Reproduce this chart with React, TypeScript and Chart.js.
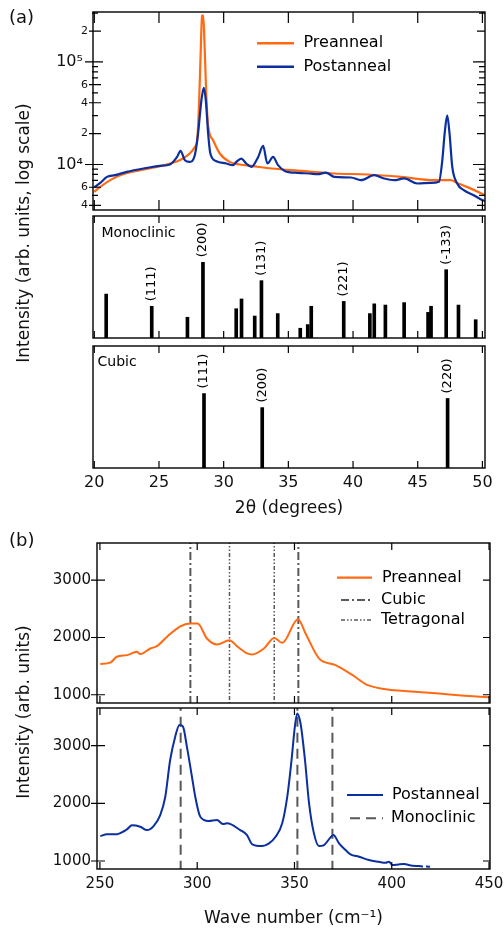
import React, { useEffect, useRef } from 'react';
import { Chart, registerables } from 'chart.js';

Chart.register(...registerables);

const FONT = '"DejaVu Sans", Verdana, sans-serif';
const ORANGE = '#ff6a13';
const BLUE = '#0c2f9f';
const REF = '#585858';

// ---------------- (a) XRD ----------------
const xrdPreX = [20.0, 20.46, 21.23, 22.0, 23.54, 25.08, 25.85, 26.6, 27.4, 27.77, 27.95, 28.1, 28.22, 28.33, 28.42, 28.52, 28.65, 28.8, 29.18, 29.7, 30.46, 31.23, 32.15, 33.7, 36.0, 38.56, 41.13, 43.7, 46.25, 47.54, 48.05, 48.8, 49.85, 50.2];
const xrdPreY = [5410, 6050, 7040, 7870, 8800, 9630, 10230, 11000, 12900, 14800, 17200, 40000, 120000, 280000, 285000, 150000, 50000, 24000, 17250, 12800, 10600, 10000, 9690, 9140, 8660, 8170, 7990, 7570, 7030, 7030, 6610, 6050, 5270, 5000];

const xrdPostX = [20.0, 20.46, 20.98, 21.6, 22.5, 23.8, 25.08, 25.85, 26.4, 26.67, 27.0, 27.38, 27.77, 28.02, 28.28, 28.46, 28.62, 28.8, 28.97, 29.44, 30.2, 30.72, 30.98, 31.36, 31.74, 32.15, 32.67, 33.05, 33.38, 33.82, 34.2, 34.72, 35.74, 36.64, 37.28, 37.9, 38.56, 39.85, 40.6, 41.64, 42.4, 43.18, 43.95, 44.97, 46.0, 46.64, 46.9, 47.08, 47.28, 47.46, 47.67, 48.05, 48.56, 49.33, 49.85, 50.2];
const xrdPostY = [5970, 6610, 7570, 7870, 8470, 9140, 9700, 10000, 11860, 13600, 11000, 10600, 12300, 20000, 42300, 56000, 42300, 20000, 12800, 10770, 10230, 9850, 10600, 11430, 10230, 9480, 11860, 15170, 10230, 11860, 9850, 8660, 8280, 8170, 8040, 8340, 7570, 7470, 7030, 7870, 7310, 7030, 7310, 6530, 6610, 6780, 11000, 20000, 30200, 20000, 9480, 6530, 5620, 5020, 4590, 4400];

const xrdXTicks = [20, 25, 30, 35, 40, 45, 50];
const xrdLogTicks = [4000, 5000, 6000, 7000, 8000, 9000, 10000, 20000, 30000, 40000, 50000, 60000, 70000, 80000, 90000, 100000, 200000, 300000];
const xrdLogTickLabels = ['4', '', '6', '', '', '', '10⁴ ', '2', '', '4', '', '6', '', '', '', '10⁵ ', '2', ''];

const monoPos = [20.92, 24.44, 27.2, 28.4, 30.97, 31.38, 32.4, 32.92, 34.18, 35.92, 36.5, 36.77, 39.28, 41.3, 41.64, 42.5, 43.95, 45.8, 46.03, 47.2, 48.15, 49.48];
const monoHeight = [36, 26, 17, 62, 24, 32, 18, 47, 20, 8, 11, 26, 30, 20, 28, 27, 29, 21, 26, 56, 27, 15];
const monoLabels = ['', '(111)', '', '(200)', '', '', '', '(131)', '', '', '', '', '(221)', '', '', '', '', '', '', '(-133)', '', ''];

const cubicPos = [28.48, 32.98, 47.31];
const cubicHeight = [61, 49.5, 57];
const cubicLabels = ['(111)', '(200)', '(220)'];

// ---------------- (b) Raman ----------------
const ramanPreX = [250.2, 255.3, 258.7, 263.9, 269.0, 270.7, 275.9, 279.3, 284.4, 291.3, 296.4, 300.2, 305.0, 310.2, 316.6, 320.4, 325.6, 328.3, 334.3, 339.6, 343.7, 351.8, 355.7, 362.6, 371.1, 379.7, 387.4, 396.8, 405.4, 417.4, 431.1, 448.3, 450.5];
const ramanPreY = [1536, 1560, 1663, 1692, 1750, 1710, 1808, 1849, 2010, 2196, 2243, 2243, 1983, 1878, 1953, 1849, 1722, 1704, 1808, 1993, 1906, 2318, 2070, 1635, 1518, 1346, 1172, 1097, 1068, 1040, 1000, 960, 958];

const ramanPostX = [250.2, 253.6, 257.9, 263.9, 266.5, 270.7, 274.2, 277.6, 281.0, 283.6, 286.1, 288.7, 290.9, 292.7, 294.7, 297.3, 299.0, 301.6, 305.8, 310.2, 313.2, 315.3, 322.1, 325.6, 328.3, 333.4, 336.9, 340.3, 343.7, 346.3, 348.5, 350.2, 351.4, 353.1, 355.4, 357.5, 360.0, 362.6, 365.2, 368.1, 370.0, 372.9, 376.3, 378.8, 383.2, 388.3, 393.4, 396.8, 398.6, 400.3, 403.7, 406.3, 410.6, 414.0, 416.0, 418.0, 420.0];
const ramanPostY = [1432, 1462, 1462, 1549, 1618, 1594, 1536, 1606, 1797, 2115, 2752, 3157, 3360, 3330, 2983, 2462, 2115, 1767, 1693, 1710, 1641, 1653, 1537, 1450, 1290, 1259, 1306, 1420, 1653, 2115, 2752, 3330, 3560, 3389, 2752, 2000, 1479, 1259, 1276, 1392, 1450, 1306, 1189, 1115, 1073, 1016, 986, 969, 986, 929, 941, 946, 917, 912, 905, 903, 900];

const ramanCubic = [296.5, 352];
const ramanTetragonal = [316.6, 339.6];
const ramanMonoclinic = [291.5, 351.5, 369.5];
const ramanXTicks = [250, 300, 350, 400, 450];
const ramanYTicks = [1000, 2000, 3000];

const CUBIC_DASH = [8, 3, 2, 3];
const TETRA_DASH = [4, 2, 1.5, 2, 1.5, 2];
const MONO_DASH = [10, 6];

// ---------------- layout helpers ----------------
type Box = { left: number; top: number; width: number; height: number };
type Rect = { l: number; t: number; r: number; b: number };
const MARGIN = 40;
const Y_AXIS_W = 80;

function boxFor(p: Rect, bottomExtra = MARGIN): Box {
  const top = Math.floor(p.t) - MARGIN;
  return { left: -MARGIN, top, width: 504 + 2 * MARGIN, height: Math.ceil(p.b + bottomExtra) - top };
}
function paddingFor(p: Rect, bx: Box, yShown: boolean, xH: number) {
  return {
    left: p.l - bx.left - (yShown ? Y_AXIS_W : 0),
    top: p.t - bx.top,
    right: bx.left + bx.width - p.r,
    bottom: bx.top + bx.height - p.b - xH,
  };
}

type YTick = { v: number; out: number; inn: number; rin: number };
function framePlugin(
  xTicks: number[],
  topLen: number,
  botLen: number,
  yTicks: YTick[],
  extra?: (chart: any, ctx: CanvasRenderingContext2D) => void,
) {
  return {
    id: 'frame',
    afterDraw(chart: any) {
      const { ctx, chartArea: a } = chart;
      const sx = chart.scales.x;
      const sy = chart.scales.y;
      ctx.save();
      ctx.strokeStyle = '#000';
      ctx.lineWidth = 1.4;
      ctx.strokeRect(a.left, a.top, a.right - a.left, a.bottom - a.top);
      ctx.lineWidth = 1.2;
      ctx.beginPath();
      xTicks.forEach((v) => {
        const x = sx.getPixelForValue(v);
        ctx.moveTo(x, a.top);
        ctx.lineTo(x, a.top + topLen);
        ctx.moveTo(x, a.bottom);
        ctx.lineTo(x, a.bottom - botLen);
      });
      yTicks.forEach((t) => {
        const y = sy.getPixelForValue(t.v);
        ctx.moveTo(a.left - t.out, y);
        ctx.lineTo(a.left + t.inn, y);
        ctx.moveTo(a.right, y);
        ctx.lineTo(a.right - t.rin, y);
      });
      ctx.stroke();
      if (extra) extra(chart, ctx);
      ctx.restore();
    },
  };
}

function legendEntry(
  ctx: CanvasRenderingContext2D,
  bx: Box,
  x1: number,
  x2: number,
  y: number,
  color: string,
  width: number,
  dash: number[],
  text: string,
  tx: number,
) {
  ctx.save();
  ctx.strokeStyle = color;
  ctx.lineWidth = width;
  ctx.setLineDash(dash);
  ctx.beginPath();
  ctx.moveTo(x1 - bx.left, y - bx.top);
  ctx.lineTo(x2 - bx.left, y - bx.top);
  ctx.stroke();
  ctx.setLineDash([]);
  ctx.fillStyle = '#000';
  ctx.font = `16px ${FONT}`;
  ctx.textBaseline = 'middle';
  ctx.textAlign = 'left';
  ctx.fillText(text, tx - bx.left, y - bx.top);
  ctx.restore();
}

function pageText(ctx: CanvasRenderingContext2D, bx: Box, text: string, x: number, y: number, size: number) {
  ctx.save();
  ctx.fillStyle = '#000';
  ctx.font = `${size}px ${FONT}`;
  ctx.textBaseline = 'middle';
  ctx.textAlign = 'left';
  ctx.fillText(text, x - bx.left, y - bx.top);
  ctx.restore();
}

function stickLabels(chart: any, ctx: CanvasRenderingContext2D, labels: string[]) {
  const meta = chart.getDatasetMeta(0);
  ctx.save();
  ctx.fillStyle = '#000';
  ctx.font = `13px ${FONT}`;
  ctx.textAlign = 'left';
  ctx.textBaseline = 'middle';
  meta.data.forEach((bar: any, i: number) => {
    const lab = labels[i];
    if (!lab) return;
    ctx.save();
    ctx.translate(bar.x, bar.y - 5);
    ctx.rotate(-Math.PI / 2);
    ctx.fillText(lab, 0, 0);
    ctx.restore();
  });
  ctx.restore();
}

const hiddenGrid = { display: false, drawTicks: false };
const hiddenBorder = { display: false };
const basePlugins = { legend: { display: false }, tooltip: { enabled: false } };

// ---------------- chart builders ----------------
const xrdRect: Rect = { l: 93, t: 12, r: 485, b: 210 };
const xrdBox = boxFor(xrdRect);
const xrdYTicks: YTick[] = xrdLogTicks.map((v, i) => {
  const lab = xrdLogTickLabels[i];
  if (lab.startsWith('10')) return { v, out: 8, inn: 10, rin: 12 };
  if (lab) return { v, out: 4, inn: 8, rin: 8 };
  return { v, out: 1, inn: 5, rin: 6 };
});

function buildXrd(c: HTMLCanvasElement) {
  return new Chart(c, {
    type: 'line',
    data: {
      datasets: [
        { label: 'Postanneal', data: xrdPostX.map((x, i) => ({ x, y: xrdPostY[i] })), borderColor: BLUE, borderWidth: 2.2, pointRadius: 0, cubicInterpolationMode: 'monotone' },
        { label: 'Preanneal', data: xrdPreX.map((x, i) => ({ x, y: xrdPreY[i] })), borderColor: ORANGE, borderWidth: 2.2, pointRadius: 0, cubicInterpolationMode: 'monotone' },
      ],
    },
    options: {
      responsive: false,
      animation: false,
      events: [],
      layout: { padding: paddingFor(xrdRect, xrdBox, true, 0) },
      plugins: basePlugins,
      scales: {
        x: { type: 'linear', min: 19.9, max: 50.2, display: false },
        y: {
          type: 'logarithmic',
          min: 3600,
          max: 307000,
          afterBuildTicks: (s: any) => {
            s.ticks = xrdLogTicks.map((v) => ({ value: v }));
          },
          afterFit: (s: any) => {
            s.width = Y_AXIS_W;
          },
          grid: hiddenGrid,
          border: hiddenBorder,
          ticks: {
            autoSkip: false,
            padding: 5,
            color: '#111',
            font: (ctx: any) => ({ family: FONT, size: (xrdLogTickLabels[ctx.index] || '').startsWith('10') ? 16 : 11 }),
            callback: (_v: any, i: number) => xrdLogTickLabels[i],
          },
        },
      },
    } as any,
    plugins: [
      framePlugin(xrdXTicks, 11, 10, xrdYTicks, (chart, ctx) => {
        legendEntry(ctx, xrdBox, 257, 294, 43.3, ORANGE, 2.4, [], 'Preanneal', 303.5);
        legendEntry(ctx, xrdBox, 257, 294, 66.7, BLUE, 2.4, [], 'Postanneal', 303.5);
      }),
    ],
  });
}

const monoRect: Rect = { l: 93, t: 216, r: 485, b: 338 };
const monoBox = boxFor(monoRect);
function buildMono(c: HTMLCanvasElement) {
  return new Chart(c, {
    type: 'bar',
    data: {
      datasets: [{ label: 'Monoclinic', data: monoPos.map((x, i) => ({ x, y: monoHeight[i] })), backgroundColor: '#000', barThickness: 3 }],
    },
    options: {
      responsive: false,
      animation: false,
      events: [],
      layout: { padding: paddingFor(monoRect, monoBox, false, 0) },
      plugins: basePlugins,
      scales: {
        x: { type: 'linear', min: 19.9, max: 50.2, offset: false, display: false },
        y: { min: 0, max: 100, display: false },
      },
    } as any,
    plugins: [
      framePlugin(xrdXTicks, 7, 7, [], (chart, ctx) => {
        stickLabels(chart, ctx, monoLabels);
        pageText(ctx, monoBox, 'Monoclinic', 101.5, 233.5, 14);
      }),
    ],
  });
}

const cubicRect: Rect = { l: 93, t: 346, r: 485, b: 468 };
const CUBIC_XH = 51;
const cubicBox = boxFor(cubicRect, CUBIC_XH + 20);
function buildCubic(c: HTMLCanvasElement) {
  return new Chart(c, {
    type: 'bar',
    data: {
      datasets: [{ label: 'Cubic', data: cubicPos.map((x, i) => ({ x, y: cubicHeight[i] })), backgroundColor: '#000', barThickness: 3 }],
    },
    options: {
      responsive: false,
      animation: false,
      events: [],
      layout: { padding: paddingFor(cubicRect, cubicBox, false, CUBIC_XH) },
      plugins: basePlugins,
      scales: {
        x: {
          type: 'linear',
          min: 19.9,
          max: 50.2,
          offset: false,
          afterBuildTicks: (s: any) => {
            s.ticks = xrdXTicks.map((v) => ({ value: v }));
          },
          afterFit: (s: any) => {
            s.height = CUBIC_XH;
          },
          grid: hiddenGrid,
          border: hiddenBorder,
          ticks: { autoSkip: false, maxRotation: 0, padding: 5, color: '#111', font: { family: FONT, size: 16 }, callback: (_v: any, i: number) => String(xrdXTicks[i]) },
          title: { display: true, text: '2θ (degrees)', color: '#111', font: { family: FONT, size: 17 }, padding: 0 },
        },
        y: { min: 0, max: 100, display: false },
      },
    } as any,
    plugins: [
      framePlugin(xrdXTicks, 7, 7, [], (chart, ctx) => {
        stickLabels(chart, ctx, cubicLabels);
        pageText(ctx, cubicBox, 'Cubic', 97.5, 362.5, 14);
      }),
    ],
  });
}

function refLines(values: number[], label: string, dash: number[], width: number) {
  return values.map((v) => ({
    label,
    data: [
      { x: v, y: 0 },
      { x: v, y: 5000 },
    ],
    borderColor: REF,
    borderWidth: width,
    borderDash: dash,
    pointRadius: 0,
  }));
}

const ramanYTickSpec: YTick[] = ramanYTicks.map((v) => ({ v, out: 6, inn: 8, rin: 7 }));

function ramanY(min: number, max: number) {
  return {
    type: 'linear',
    min,
    max,
    afterBuildTicks: (s: any) => {
      s.ticks = ramanYTicks.map((v) => ({ value: v }));
    },
    afterFit: (s: any) => {
      s.width = Y_AXIS_W;
    },
    grid: hiddenGrid,
    border: hiddenBorder,
    ticks: { autoSkip: false, padding: 6, color: '#111', font: { family: FONT, size: 15 }, callback: (_v: any, i: number) => String(ramanYTicks[i]) },
  };
}

const b1Rect: Rect = { l: 97, t: 543, r: 490, b: 703 };
const b1Box = boxFor(b1Rect);
function buildB1(c: HTMLCanvasElement) {
  return new Chart(c, {
    type: 'line',
    data: {
      datasets: [
        { label: 'Preanneal', data: ramanPreX.map((x, i) => ({ x, y: ramanPreY[i] })), borderColor: ORANGE, borderWidth: 2, pointRadius: 0, cubicInterpolationMode: 'monotone' },
        ...refLines(ramanCubic, 'Cubic', CUBIC_DASH, 2),
        ...refLines(ramanTetragonal, 'Tetragonal', TETRA_DASH, 1.5),
      ],
    },
    options: {
      responsive: false,
      animation: false,
      events: [],
      layout: { padding: paddingFor(b1Rect, b1Box, true, 0) },
      plugins: basePlugins,
      scales: {
        x: { type: 'linear', min: 248.5, max: 450.5, display: false },
        y: ramanY(856, 3650),
      },
    } as any,
    plugins: [
      framePlugin(ramanXTicks, 7, 7, ramanYTickSpec, (chart, ctx) => {
        legendEntry(ctx, b1Box, 337, 372, 577.7, ORANGE, 2.2, [], 'Preanneal', 382);
        legendEntry(ctx, b1Box, 341, 372, 600, REF, 2, CUBIC_DASH, 'Cubic', 381);
        legendEntry(ctx, b1Box, 341, 372, 620, REF, 1.5, TETRA_DASH, 'Tetragonal', 381);
      }),
    ],
  });
}

const b2Rect: Rect = { l: 97, t: 708, r: 490, b: 869 };
const B2_XH = 60;
const b2Box = boxFor(b2Rect, B2_XH + 20);
function buildB2(c: HTMLCanvasElement) {
  return new Chart(c, {
    type: 'line',
    data: {
      datasets: [
        {
          label: 'Postanneal',
          data: ramanPostX.map((x, i) => ({ x, y: ramanPostY[i] })),
          borderColor: BLUE,
          borderWidth: 2,
          pointRadius: 0,
          cubicInterpolationMode: 'monotone',
          segment: { borderDash: (ctx: any) => (ctx.p0.parsed.x >= 414 ? [4, 3] : undefined) },
        },
        ...refLines(ramanMonoclinic, 'Monoclinic', MONO_DASH, 2),
      ],
    },
    options: {
      responsive: false,
      animation: false,
      events: [],
      layout: { padding: paddingFor(b2Rect, b2Box, true, B2_XH) },
      plugins: basePlugins,
      scales: {
        x: {
          type: 'linear',
          min: 248.5,
          max: 450.5,
          afterBuildTicks: (s: any) => {
            s.ticks = ramanXTicks.map((v) => ({ value: v }));
          },
          afterFit: (s: any) => {
            s.height = B2_XH;
          },
          grid: hiddenGrid,
          border: hiddenBorder,
          ticks: { autoSkip: false, maxRotation: 0, padding: 6, color: '#111', font: { family: FONT, size: 15 }, callback: (_v: any, i: number) => String(ramanXTicks[i]) },
          title: { display: true, text: 'Wave number (cm⁻¹)', color: '#111', font: { family: FONT, size: 17 }, padding: 0 },
        },
        y: ramanY(861, 3654),
      },
    } as any,
    plugins: [
      framePlugin(ramanXTicks, 7, 7, ramanYTickSpec, (chart, ctx) => {
        legendEntry(ctx, b2Box, 347, 383, 795, BLUE, 2.2, [], 'Postanneal', 392);
        legendEntry(ctx, b2Box, 350, 383, 818.3, REF, 2, MONO_DASH, 'Monoclinic', 391);
      }),
    ],
  });
}

// ---------------- components ----------------
function ChartCanvas({ box, build }: { box: Box; build: (c: HTMLCanvasElement) => Chart }) {
  const ref = useRef<HTMLCanvasElement | null>(null);
  useEffect(() => {
    const chart = build(ref.current as HTMLCanvasElement);
    return () => chart.destroy();
  }, []);
  return (
    <canvas
      ref={ref}
      width={box.width}
      height={box.height}
      style={{ position: 'absolute', left: box.left, top: box.top, width: box.width, height: box.height }}
    />
  );
}

function Label({ x, y, size, rotate, children }: { x: number; y: number; size: number; rotate?: boolean; children: React.ReactNode }) {
  return (
    <div
      style={{
        position: 'absolute',
        left: x,
        top: y,
        transform: rotate ? 'translate(-50%, -50%) rotate(-90deg)' : 'translate(0, -50%)',
        whiteSpace: 'nowrap',
        fontFamily: FONT,
        fontSize: size,
        lineHeight: 1.2,
        color: '#111',
      }}
    >
      {children}
    </div>
  );
}

export default function App() {
  return (
    <div style={{ position: 'absolute', left: 0, top: 0, width: 504, height: 930, overflow: 'hidden', background: '#fff' }}>
      <ChartCanvas box={xrdBox} build={buildXrd} />
      <ChartCanvas box={monoBox} build={buildMono} />
      <ChartCanvas box={cubicBox} build={buildCubic} />
      <ChartCanvas box={b1Box} build={buildB1} />
      <ChartCanvas box={b2Box} build={buildB2} />
      <Label x={9} y={16.5} size={18}>(a)</Label>
      <Label x={9} y={540} size={18}>(b)</Label>
      <Label x={22.5} y={232.5} size={17} rotate>Intensity (arb. units, log scale)</Label>
      <Label x={22.5} y={711.5} size={17} rotate>Intensity (arb. units)</Label>
    </div>
  );
}
